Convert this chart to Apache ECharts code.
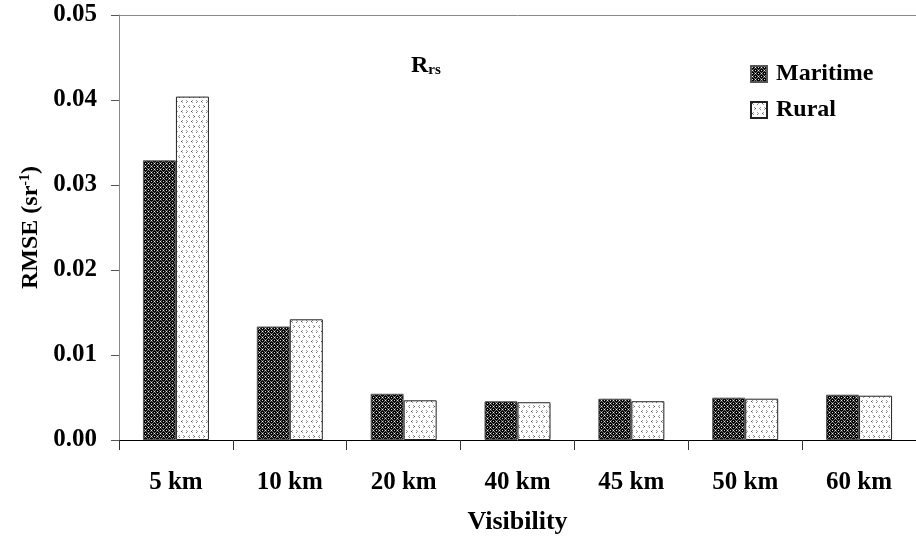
<!DOCTYPE html>
<html>
<head>
<meta charset="utf-8">
<script src="https://cdn.jsdelivr.net/npm/echarts@6/dist/echarts.min.js"></script>
<style>
  html, body { margin: 0; padding: 0; background: #ffffff; }
  #chart { width: 916px; height: 540px; }
</style>
</head>
<body>
<div id="chart"></div>
<script>
// Visibility classes and RMSE of remote-sensing reflectance (sr^-1)
const categories = ['5 km', '10 km', '20 km', '40 km', '45 km', '50 km', '60 km'];
const maritime = [0.0329, 0.01335, 0.00544, 0.00456, 0.00486, 0.00498, 0.00533];
const rural = [0.0404, 0.0142, 0.00467, 0.00444, 0.00456, 0.00486, 0.00521];
const yMin = 0;
const yMax = 0.05;
const yStep = 0.01;

const FONT = "'Liberation Serif', 'Times New Roman', serif";

// Dark dotted fill: black discs with grey rims and white glints
function maritimeTile() {
  const n = 6;
  const c = document.createElement('canvas');
  c.width = n; c.height = n;
  const ctx = c.getContext('2d');
  const img = ctx.createImageData(n, n);
  const centers = [[1.5, 1.5], [4.5, 4.5]];
  for (let y = 0; y < n; y++) {
    for (let x = 0; x < n; x++) {
      const px = x + 0.5, py = y + 0.5;
      let d = 99;
      for (const [cx, cy] of centers) {
        for (const ox of [-n, 0, n]) {
          for (const oy of [-n, 0, n]) {
            d = Math.min(d, Math.hypot(px - cx - ox, py - cy - oy));
          }
        }
      }
      let v = 235;
      if (d < 1.5) v = 0;
      else if (d < 2.2) v = 30;
      else if (d < 2.6) v = 120;
      const i = (y * n + x) * 4;
      img.data[i] = v; img.data[i + 1] = v; img.data[i + 2] = v; img.data[i + 3] = 255;
    }
  }
  ctx.putImageData(img, 0, 0);
  ctx.fillStyle = '#d0d0d0';
  ctx.fillRect(1, 1, 1, 1);
  ctx.fillRect(4, 4, 1, 1);
  return c;
}

// Light fill: sparse grey chevrons on white
function ruralTile() {
  const n = 10;
  const c = document.createElement('canvas');
  c.width = n; c.height = n;
  const ctx = c.getContext('2d');
  ctx.fillStyle = '#ffffff';
  ctx.fillRect(0, 0, n, n);
  const px = (x, y, col) => { ctx.fillStyle = col; ctx.fillRect(x, y, 1, 1); };
  px(2, 0, '#9a9a9a'); px(1, 1, '#555555'); px(2, 2, '#9a9a9a');
  px(6, 0, '#9a9a9a'); px(7, 1, '#9a9a9a'); px(6, 2, '#777777');
  px(3, 5, '#9a9a9a'); px(4, 6, '#555555'); px(3, 7, '#9a9a9a');
  px(9, 5, '#9a9a9a'); px(8, 6, '#9a9a9a'); px(9, 7, '#777777');
  return c;
}

const maritimeFill = { image: maritimeTile(), repeat: 'repeat' };
const ruralFill = { image: ruralTile(), repeat: 'repeat' };

const chart = echarts.init(document.getElementById('chart'), null, { renderer: 'canvas' });

chart.setOption({
  backgroundColor: '#ffffff',
  animation: false,
  textStyle: { fontFamily: FONT },
  grid: { left: 119, top: 15, width: 806, height: 428 },
  legend: {
    orient: 'vertical',
    left: 750,
    top: 62,
    padding: 0,
    itemWidth: 16,
    itemHeight: 16,
    itemGap: 12,
    icon: 'rect',
    textStyle: { fontFamily: FONT, fontWeight: 'bold', fontSize: 24, color: '#000', padding: [0, 0, 0, 4] },
    data: ['Maritime', 'Rural']
  },
  xAxis: [
    {
      type: 'category',
      data: categories,
      position: 'bottom',
      name: 'Visibility',
      nameLocation: 'middle',
      nameGap: 69,
      nameTextStyle: { fontFamily: FONT, fontWeight: 'bold', fontSize: 26, color: '#000' },
      axisLine: { lineStyle: { color: '#000', width: 1 } },
      axisTick: { show: true, length: 10, lineStyle: { color: '#333' } },
      axisLabel: { margin: 30, fontFamily: FONT, fontWeight: 'bold', fontSize: 25, color: '#000' },
      splitLine: { show: false }
    },
    {
      type: 'category',
      data: categories,
      position: 'top',
      axisLine: { lineStyle: { color: '#888', width: 1 } },
      axisTick: { show: false },
      axisLabel: { show: false },
      splitLine: { show: false }
    }
  ],
  yAxis: {
    type: 'value',
    min: yMin,
    max: yMax,
    interval: yStep,
    name: '{a|RMSE (sr}{s|-1}{a|)}',
    nameLocation: 'middle',
    nameGap: 76,
    nameRotate: 90,
    nameTextStyle: {
      rich: {
        a: { fontFamily: FONT, fontWeight: 'bold', fontSize: 24, color: '#000' },
        s: { fontFamily: FONT, fontWeight: 'bold', fontSize: 14, color: '#000', verticalAlign: 'top', padding: [0, 0, 10, 0] }
      }
    },
    axisLine: { show: true, lineStyle: { color: '#888', width: 1 } },
    axisTick: { show: true, length: 8, lineStyle: { color: '#555' } },
    axisLabel: {
      margin: 22,
      fontFamily: FONT,
      fontWeight: 'bold',
      fontSize: 25,
      color: '#000',
      formatter: v => v.toFixed(2)
    },
    splitLine: { show: false }
  },
  graphic: [
    {
      type: 'text',
      left: 411,
      top: 54,
      style: {
        text: '{r|R}{s|rs}',
        rich: {
          r: { fontFamily: FONT, fontWeight: 'bold', fontSize: 24, fill: '#000' },
          s: { fontFamily: FONT, fontWeight: 'bold', fontSize: 15, fill: '#000', verticalAlign: 'bottom' }
        }
      }
    }
  ],
  series: [
    {
      name: 'Maritime',
      type: 'bar',
      xAxisIndex: 0,
      data: maritime,
      barWidth: 33,
      barGap: '0%',
      itemStyle: { color: maritimeFill, borderColor: '#555', borderWidth: 1 }
    },
    {
      name: 'Rural',
      type: 'bar',
      xAxisIndex: 0,
      data: rural,
      barWidth: 33,
      barGap: '0%',
      itemStyle: { color: ruralFill, borderColor: '#222', borderWidth: 1 }
    }
  ]
});
</script>
</body>
</html>
